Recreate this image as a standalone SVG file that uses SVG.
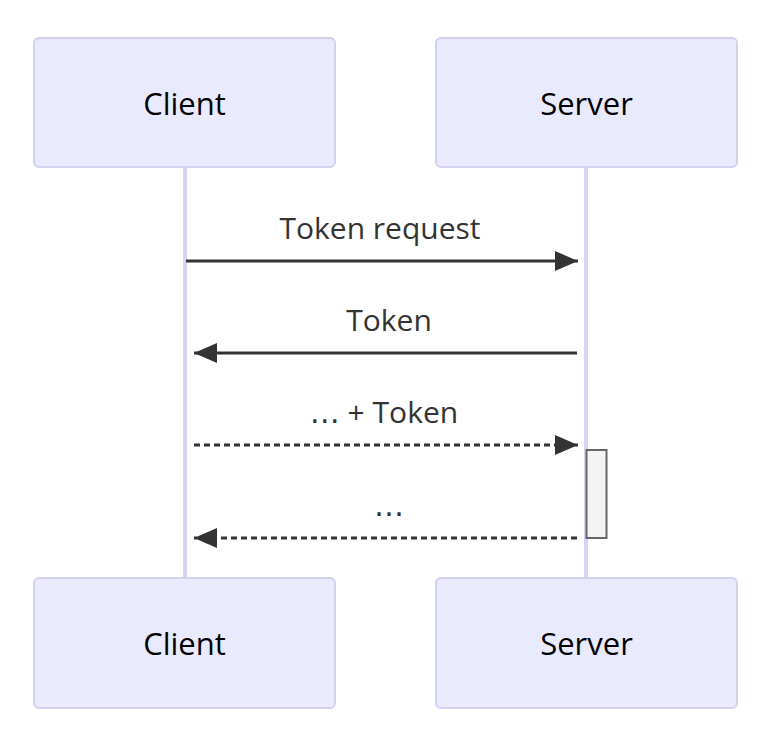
<svg xmlns="http://www.w3.org/2000/svg" width="771" height="733" viewBox="0 0 771 733">
<style>
.actor rect{fill:#eaeaff;stroke:#d6d0f0;stroke-width:2}
.actor text{font-family:"Open Sans","Noto Sans",sans-serif;font-size:31px;fill:#000;text-anchor:middle;dominant-baseline:central}
.life{stroke:#d9d3f3;stroke-width:4}
.msg{stroke:#333;stroke-width:3;fill:none}
.dash{stroke-dasharray:6,4}
.lbl{font-family:"Open Sans","Noto Sans",sans-serif;font-size:30px;fill:#333;text-anchor:middle}
.ell{font-family:"DejaVu Sans",sans-serif}
</style>
<defs>
<marker id="ah" viewBox="0 0 23 20" refX="23" refY="10" markerWidth="23" markerHeight="20" markerUnits="userSpaceOnUse" orient="auto">
<path d="M0,0 L23,10 L0,20 z" fill="#333"/>
</marker>
</defs>
<g id="lifelines">
<line class="life" x1="185" y1="167" x2="185" y2="578"/>
<line class="life" x1="586" y1="167" x2="586" y2="578"/>
</g>
<g id="client-top" class="actor"><rect x="34" y="38" width="301" height="129" rx="5"/><text x="184.5" y="103">Client</text></g>
<g id="server-top" class="actor"><rect x="436" y="38" width="301" height="129" rx="5"/><text x="586.5" y="103">Server</text></g>
<g id="client-bottom" class="actor"><rect x="34" y="578" width="301" height="130" rx="5"/><text x="184.5" y="643">Client</text></g>
<g id="server-bottom" class="actor"><rect x="436" y="578" width="301" height="130" rx="5"/><text x="586.5" y="643">Server</text></g>
<g id="activation"><rect x="586.5" y="450" width="20" height="88" fill="#f4f4f4" stroke="#666" stroke-width="2"/></g>
<g id="connectors">
<line class="msg" x1="186" y1="261" x2="578" y2="261" marker-end="url(#ah)"/>
<line class="msg" x1="577" y1="353" x2="194" y2="353" marker-end="url(#ah)"/>
<line class="msg dash" x1="194" y1="445" x2="578" y2="445" marker-end="url(#ah)"/>
<line class="msg dash" x1="577" y1="538" x2="194" y2="538" marker-end="url(#ah)"/>
</g>
<g id="labels">
<text class="lbl" x="380" y="239">Token request</text>
<text class="lbl" x="389" y="331">Token</text>
<text class="lbl" x="384" y="423"><tspan class="ell">…</tspan> + Token</text>
<text class="lbl" x="389" y="516"><tspan class="ell">…</tspan></text>
</g>
</svg>
